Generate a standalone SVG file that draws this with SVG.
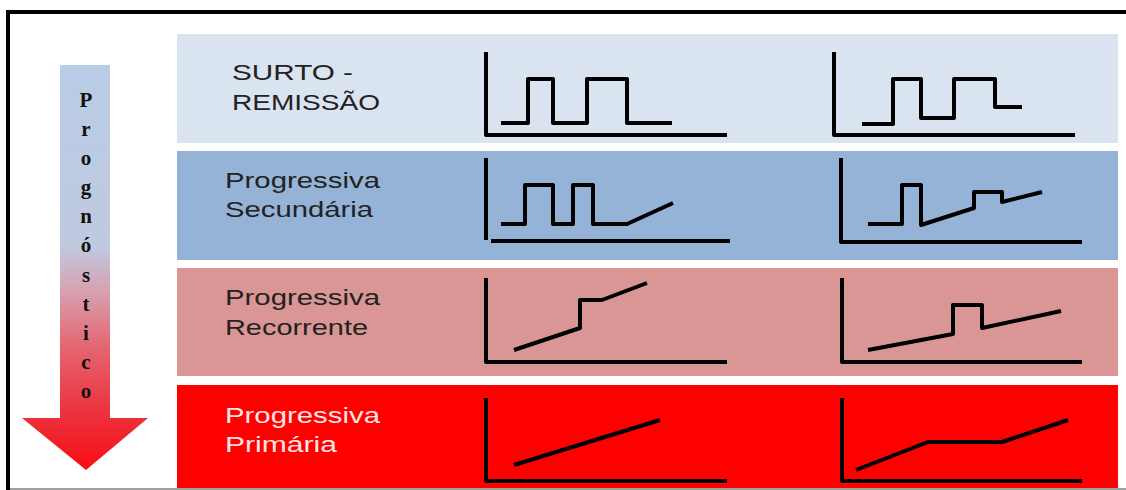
<svg xmlns="http://www.w3.org/2000/svg" width="1126" height="490" viewBox="0 0 1126 490">
  <defs>
    <linearGradient id="arrowGrad" gradientUnits="userSpaceOnUse" x1="0" y1="65" x2="0" y2="470">
      <stop offset="0" stop-color="#B9CDE6"/>
      <stop offset="0.45" stop-color="#C0C9E0"/>
      <stop offset="0.56" stop-color="#D8A0AE"/>
      <stop offset="0.7" stop-color="#E4646F"/>
      <stop offset="0.85" stop-color="#EC3440"/>
      <stop offset="1" stop-color="#F80E14"/>
    </linearGradient>
  </defs>
  <style>
    .lbl { font-family: "Liberation Sans", Arial, sans-serif; font-size: 22px; fill: #222222; }
    .lblw { font-family: "Liberation Sans", Arial, sans-serif; font-size: 22px; fill: #FFE6E6; }
    .prog { font-family: "Liberation Serif", "Times New Roman", serif; font-size: 21px; font-weight: bold; fill: #111111; text-anchor: middle; }
    .axis, .sig { fill: none; stroke: #000000; stroke-width: 4; stroke-linejoin: round; stroke-linecap: butt; }
  </style>
  <rect x="0" y="0" width="1126" height="490" fill="#FFFFFF"/>
  <!-- frame -->
  <rect x="6" y="10" width="1120" height="4" fill="#000000"/>
  <rect x="6" y="10" width="4" height="480" fill="#000000"/>
  <rect x="10" y="488" width="1116" height="2" fill="#A0A0A0"/>

  <!-- arrow -->
  <g id="arrow">
    <path d="M60,65 H110 V418 H148 L86,470 L22,418 H60 Z" fill="url(#arrowGrad)"/>
    <text class="prog" x="86" y="107">P</text>
    <text class="prog" x="86" y="136">r</text>
    <text class="prog" x="86" y="165">o</text>
    <text class="prog" x="86" y="194">g</text>
    <text class="prog" x="86" y="223">n</text>
    <text class="prog" x="86" y="252">ó</text>
    <text class="prog" x="86" y="282">s</text>
    <text class="prog" x="86" y="311">t</text>
    <text class="prog" x="86" y="340">i</text>
    <text class="prog" x="86" y="369">c</text>
    <text class="prog" x="86" y="398">o</text>
  </g>

  <!-- row 1 -->
  <g id="row-surto">
    <rect x="177" y="34" width="941" height="109" fill="#DAE3F0"/>
    <text class="lbl" x="232" y="80" textLength="121" lengthAdjust="spacingAndGlyphs">SURTO -</text>
    <text class="lbl" x="232" y="110" textLength="148" lengthAdjust="spacingAndGlyphs">REMISSÃO</text>
    <path class="axis" d="M486,52 V135 H727"/>
    <path class="sig" d="M501,123 H528 V79 H553 V123 H587 V79 H627 V123 H672"/>
    <path class="axis" d="M834,52 V135 H1075"/>
    <path class="sig" d="M862,124 H893 V79 H921 V118 H954 V79 H995 V107 H1022"/>
  </g>

  <!-- row 2 -->
  <g id="row-secundaria">
    <rect x="177" y="151" width="941" height="109" fill="#95B3D7"/>
    <text class="lbl" x="225" y="188" textLength="155" lengthAdjust="spacingAndGlyphs">Progressiva</text>
    <text class="lbl" x="225" y="217" textLength="148" lengthAdjust="spacingAndGlyphs">Secundária</text>
    <path class="axis" d="M486,158 V240"/>
    <path class="axis" d="M491,241 H730"/>
    <path class="sig" d="M501,224 H525 V185 H553 V224 H573 V185 H593 V224 H627 L673,203"/>
    <path class="axis" d="M841,158 V242 H1082"/>
    <path class="sig" d="M868,224 H902 V185 H921 V225 L974,208 V192 H1002 V202 L1042,192"/>
  </g>

  <!-- row 3 -->
  <g id="row-recorrente">
    <rect x="177" y="268" width="941" height="108" fill="#D99694"/>
    <text class="lbl" x="225" y="305" textLength="155" lengthAdjust="spacingAndGlyphs">Progressiva</text>
    <text class="lbl" x="225" y="335" textLength="143" lengthAdjust="spacingAndGlyphs">Recorrente</text>
    <path class="axis" d="M486,278 V362 H727"/>
    <path class="sig" d="M514,350 L580,328 V300 H602 L647,283"/>
    <path class="axis" d="M842,278 V362 H1082"/>
    <path class="sig" d="M868,350 L953,334 V305 H982 V328 L1061,311"/>
  </g>

  <!-- row 4 -->
  <g id="row-primaria">
    <rect x="177" y="385" width="941" height="103" fill="#FF0000"/>
    <text class="lblw" x="225" y="423" textLength="155" lengthAdjust="spacingAndGlyphs">Progressiva</text>
    <text class="lblw" x="225" y="452" textLength="112" lengthAdjust="spacingAndGlyphs">Primária</text>
    <path class="axis" d="M486,398 V481 H727"/>
    <path class="sig" d="M514,465 L660,420"/>
    <path class="axis" d="M842,398 V481 H1082"/>
    <path class="sig" d="M856,470 L928,442 H1002 L1068,420"/>
  </g>

  <g id="connectors"></g>
</svg>
